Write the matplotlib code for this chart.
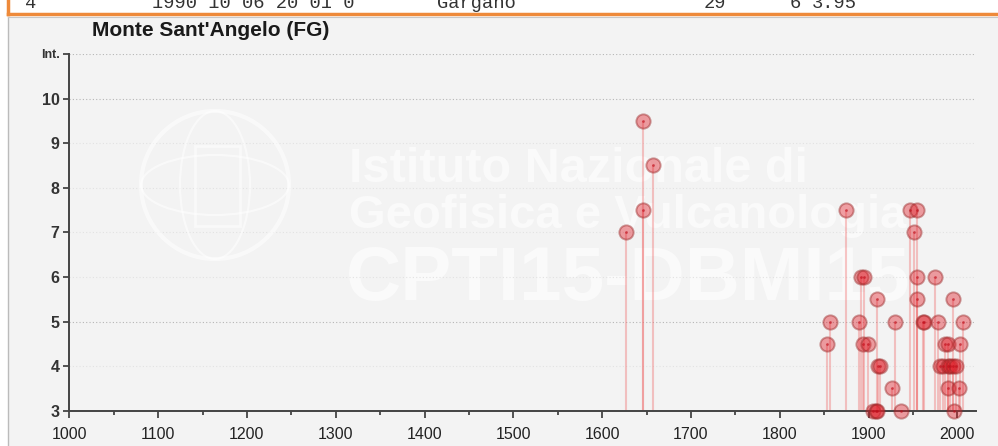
import matplotlib.pyplot as plt
from matplotlib.patches import Circle, Ellipse, Rectangle
from matplotlib.lines import Line2D

# felt intensities at Monte Sant'Angelo (FG)
years = [1627, 1646, 1646, 1657, 1853, 1857, 1875, 1889, 1892, 1895,
         1894, 1899, 1910, 1905, 1908, 1910, 1911, 1913, 1926, 1930,
         1937, 1947, 1955, 1951, 1955, 1955, 1961, 1962, 1975, 1978,
         1980, 1984, 1986, 1989, 1990, 1992, 1995, 1998, 1990, 1995,
         1996, 2002, 2003, 2006]
intensity = [7, 9.5, 7.5, 8.5, 4.5, 5, 7.5, 5, 6, 6,
             4.5, 4.5, 5.5, 3, 3, 3, 4, 4, 3.5, 5,
             3, 7.5, 7.5, 7, 6, 5.5, 5, 5, 6, 5,
             4, 4, 4.5, 4.5, 4, 4, 4, 4, 3.5, 5.5,
             3, 3.5, 4.5, 5]

x_ticks = list(range(1000, 2001, 100))
y_ticks = [3, 4, 5, 6, 7, 8, 9, 10, 11]
y_labels = ["3", "4", "5", "6", "7", "8", "9", "10", "Int."]

PANEL = "#f3f3f3"
ORANGE = "#ee8a3a"
FONT = ["Liberation Sans", "DejaVu Sans"]
W, H = 998, 446

fig = plt.figure(figsize=(W / 100, H / 100), dpi=100, facecolor="white")
ft = fig.transFigure

# background panel and the clipped table row above it
fig.add_artist(Rectangle((8 / W, 0), 1, 1 - 17 / H, transform=ft,
                         facecolor=PANEL, edgecolor="none", zorder=0))
fig.add_artist(Line2D([8 / W, 8 / W], [0, 1 - 17 / H], transform=ft,
                      color="#bbbbbb", lw=1, zorder=1))
fig.add_artist(Line2D([8 / W, 1], [1 - 13.5 / H] * 2, transform=ft,
                      color=ORANGE, lw=2.5, zorder=2))
fig.add_artist(Line2D([8 / W, 1], [1 - 17 / H] * 2, transform=ft,
                      color="#c8c8c8", lw=0.8, zorder=2))
fig.add_artist(Line2D([8 / W, 8 / W], [1 - 14 / H, 1], transform=ft,
                      color=ORANGE, lw=2.5, zorder=2))
row = [("4", 25), ("1990 10 06 20 01 0", 152), ("Gargano", 437),
       ("29", 704), ("6", 790), ("3.95", 812)]
for txt, px in row:
    fig.text(px / W, 1 - 8.5 / H, txt, family=["Liberation Mono", "DejaVu Sans Mono"],
             fontsize=13.5, color="#333333", va="baseline", ha="left")

fig.text(92 / W, 1 - 36 / H, "Monte Sant'Angelo (FG)", family=FONT,
         fontsize=15, fontweight="bold", color="#1a1a1a", ha="left", va="baseline")

ax = fig.add_axes([69.3 / W, 35.3 / H, 906.7 / W, 356.7 / H])
ax.set_facecolor(PANEL)
ax.set_xlim(1000, 2021)
ax.set_ylim(3, 11)

# watermark: logo and institute name, white on grey
wm = dict(color="white", alpha=0.6, family=FONT, fontweight="bold", zorder=1)
ax.text(0.309, 0.641, "Istituto Nazionale di", transform=ax.transAxes, fontsize=35, **wm)
ax.text(0.309, 0.512, "Geofisica e Vulcanologia", transform=ax.transAxes, fontsize=34, **wm)
ax.text(0.305, 0.31, "CPTI15-DBMI15", transform=ax.transAxes, fontsize=55, **wm)
gst = dict(transform=fig.dpi_scale_trans, fill=False, ec="white", alpha=0.55, zorder=0.5)
fig.add_artist(Circle((2.15, 2.61), 0.74, lw=3, **gst))
fig.add_artist(Ellipse((2.15, 2.61), 0.7, 1.48, lw=1.5, **gst))
fig.add_artist(Ellipse((2.15, 2.61), 1.48, 0.6, lw=1.5, **gst))
fig.add_artist(Rectangle((1.95, 2.2), 0.45, 0.8, lw=2, **gst))

# grid
for yv in [4, 6, 7, 8, 9]:
    ax.axhline(yv, color="#e2e2e2", lw=0.8, ls=(0, (1, 2)), zorder=1)
for yv in [5, 10, 11]:
    ax.axhline(yv, color="#b5b5b5", lw=0.8, ls=(0, (1, 2)), zorder=1)

# stems and markers
ax.vlines(years, 3, intensity, color=(0.94, 0.45, 0.45, 0.4), lw=1.5, zorder=2)
ax.scatter(years, intensity, s=105, facecolor=(0.88, 0.12, 0.16, 0.42),
           edgecolor=(0.6, 0.15, 0.15, 0.45), lw=1.4, zorder=3, clip_on=False)
ax.scatter(years, intensity, s=4, color=(0.75, 0.05, 0.1, 0.6), lw=0, zorder=4,
           clip_on=False)

for s in ["top", "right"]:
    ax.spines[s].set_visible(False)
for s in ["left", "bottom"]:
    ax.spines[s].set_color("#444444")
    ax.spines[s].set_linewidth(1.4)

ax.set_xticks(x_ticks)
ax.set_xticks(range(1050, 2001, 100), minor=True)
ax.set_yticks(y_ticks)
ax.set_yticklabels(y_labels)
ax.tick_params(axis="x", which="major", direction="out", length=5, width=1.3,
               color="#444444", labelsize=11.5, labelcolor="#222222", pad=7)
ax.tick_params(axis="x", which="minor", direction="out", length=3, width=1.3,
               color="#444444")
ax.tick_params(axis="y", direction="out", length=4, width=1.3, color="#444444",
               labelsize=11.5, labelcolor="#333333", pad=3)
for lab in ax.get_xticklabels() + ax.get_yticklabels():
    lab.set_family(FONT)
for lab in ax.get_yticklabels():
    lab.set_fontweight("bold")
ax.get_yticklabels()[-1].set_fontsize(9)

fig.savefig("out.png", dpi=100, facecolor="white")
